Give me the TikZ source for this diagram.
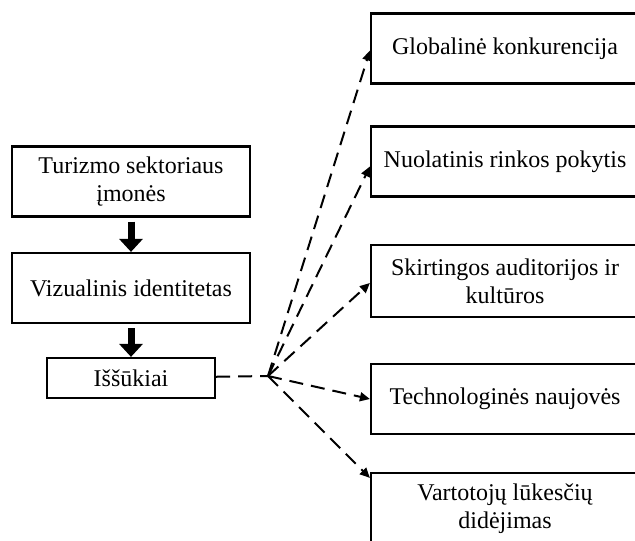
\documentclass[tikz,border=0pt]{standalone}
\usepackage{fontspec}
\setmainfont{Liberation Serif}
\usetikzlibrary{arrows.meta}

\begin{document}
\begin{tikzpicture}[x=0.5pt,y=-0.5pt,
    font=\fontsize{12}{14}\selectfont,
    box/.style={draw, line width=1.1pt, align=center, inner sep=2pt},
    leftbox/.style={box, minimum width=119pt, minimum height=35pt},
    rightbox/.style={box, minimum width=134pt, minimum height=35pt},
    bigarrow/.style={line width=3.5pt, shorten <=2pt, -{Triangle[length=6.5pt,width=11.5pt]}},
    dashline/.style={line width=1pt, dash pattern=on 7pt off 4pt},
    dasharrow/.style={dashline, -{Triangle[length=5pt,width=4.5pt]}}]
        \useasboundingbox (0,0) rectangle (635,540);
        \clip (0,0) rectangle (635,540);
        % left column
        \node[leftbox] (turizmas) at (131,181.5) {Turizmo sektoriaus\\ įmonės};
        \node[leftbox] (identitetas) at (131,288) {Vizualinis identitetas};
        \node[box, minimum width=84pt, minimum height=20pt] (issukiai) at (131,378) {Iššūkiai};
        \draw[bigarrow] (turizmas) -- (identitetas);
        \draw[bigarrow] (identitetas) -- (issukiai);
        % right column
        \node[rightbox] (konkurencija) at (505,48.5) {Globalinė konkurencija};
        \node[rightbox] (pokytis) at (505,161.5) {Nuolatinis rinkos pokytis};
        \node[rightbox, minimum height=36pt] (kulturos) at (505,281) {Skirtingos auditorijos ir\\ kultūros};
        \node[rightbox] (naujoves) at (505,399) {Technologinės naujovės};
        \node[rightbox, minimum height=36pt] (lukesciai) at (505,509) {Vartotojų lūkesčių\\ didėjimas};
        % fan of dashed arrows
        \coordinate (fan) at (268,376);
        \draw[dashline] (issukiai) -- (fan);
        \draw[dasharrow] (fan) -- ([yshift=-1pt]konkurencija.west);
        \draw[dasharrow] (fan) -- ([yshift=-2.5pt]pokytis.west);
        \draw[dasharrow] (fan) -- ([yshift=-1pt]kulturos.west);
        \draw[dasharrow] (fan) -- (naujoves.west);
        \draw[dasharrow] (fan) -- ([yshift=-3pt]lukesciai.north west);
\end{tikzpicture}
\end{document}
